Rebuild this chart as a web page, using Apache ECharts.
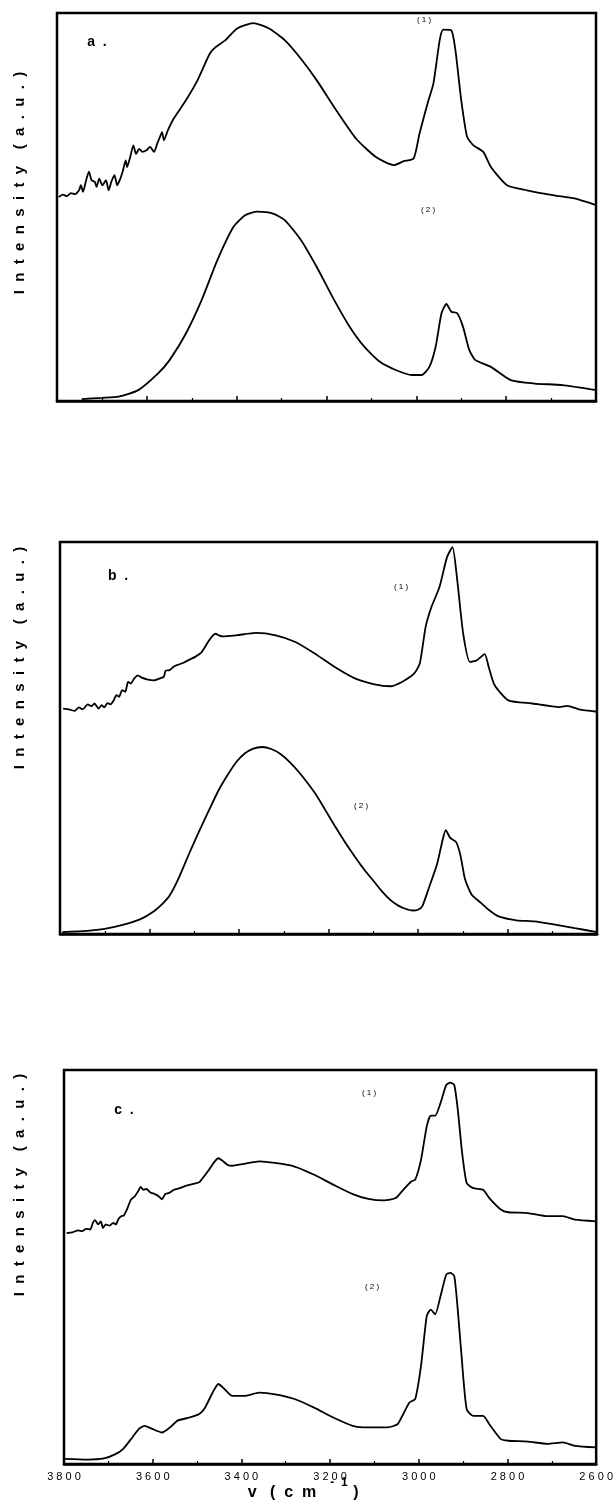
<!DOCTYPE html>
<html>
<head>
<meta charset="utf-8">
<script src="https://cdn.jsdelivr.net/npm/echarts@6.0.0/dist/echarts.min.js"></script>
<style>
  html, body { margin: 0; padding: 0; background: #fff; }
  #chart { width: 616px; height: 1503px; }
</style>
</head>
<body>
<div id="chart"></div>
<script>
// wavenumber (cm-1) / intensity (a.u., 0-100 of panel height)
var xTicks = [3800, 3600, 3400, 3200, 3000, 2800, 2600];

var curveA1 = [
  [3796,52.6],[3787,53.2],[3778,52.8],[3769,53.6],[3760,53.3],[3751,54.3],[3747,55.6],[3742,53.9],
  [3736,56.5],[3729,59.1],[3723,56.9],[3716,56.5],[3712,55.2],[3706,57.3],[3699,55.6],[3691,56.9],
  [3685,54.3],[3679,56.5],[3672,58.2],[3666,55.6],[3659,57.3],[3653,59.5],[3647,62],[3644,60.3],
  [3637,62.9],[3630,65.9],[3624,63.7],[3617,65],[3610,64.2],[3601,64.6],[3593,65.5],[3584,64.2],
  [3577,66.3],[3571,68],[3566,69.3],[3562,67.2],[3553,69.8],[3540,72.8],[3513,77.5],[3487,82.7],
  [3460,89.5],[3447,91.2],[3425,93],[3399,96],[3363,97.4],[3328,96],[3293,93],[3257,88.2],
  [3222,82.7],[3178,74.9],[3134,67.6],[3090,62.9],[3050,60.8],[3028,61.8],[3006,62.5],[2993,68.9],
  [2975,76.7],[2962,81.8],[2948,93],[2940,95.7],[2922,95.5],[2913,90.4],[2900,77.5],[2887,68.1],
  [2873,65.9],[2851,64.2],[2834,60.3],[2798,55.6],[2754,54.3],[2693,53],[2648,52.2],[2600,50.5]
];
var curveA2 = [
  [3745,0.5],[3700,0.8],[3663,1.1],[3619,2.8],[3575,7.1],[3549,10.6],[3513,17.4],[3478,26],
  [3443,36.3],[3407,44.9],[3381,47.9],[3354,48.8],[3319,48.3],[3293,46.6],[3257,41.5],[3222,34.6],
  [3187,26.9],[3151,19.6],[3116,14],[3081,10.1],[3046,8],[3010,6.7],[2988,6.7],[2971,8.8],
  [2957,14],[2944,22.6],[2933,25],[2922,23],[2909,22.6],[2896,19.1],[2882,13.1],[2869,10.6],
  [2834,8.8],[2790,5.4],[2737,4.5],[2675,4.1],[2600,2.8]
];
var curveB1 = [
  [3793,57.5],[3780,57.3],[3767,56.9],[3758,57.8],[3749,57.3],[3738,58.6],[3730,58.1],[3723,58.8],
  [3714,57.5],[3707,58.4],[3701,57.8],[3694,58.9],[3687,58.6],[3680,59.6],[3674,60.9],[3668,60.5],
  [3661,62.2],[3654,61.8],[3648,64.3],[3642,63.9],[3634,65.2],[3626,66],[3617,65.4],[3604,64.9],
  [3590,64.7],[3577,65.2],[3568,65.6],[3564,67.2],[3555,67.3],[3546,68.2],[3538,68.6],[3524,69.2],
  [3511,70],[3498,70.7],[3485,71.7],[3476,73.2],[3467,74.9],[3458,76.2],[3452,76.6],[3445,76.2],
  [3436,75.9],[3406,76.2],[3362,76.8],[3318,76.2],[3274,74.5],[3230,71.5],[3186,68.1],[3141,65.2],
  [3097,63.7],[3062,63.2],[3036,64.3],[3009,66.4],[2996,69],[2983,78.3],[2970,83.4],[2952,88.5],
  [2935,96.2],[2923,98.7],[2913,91],[2899,76.6],[2884,69.4],[2869,69.8],[2851,71.4],[2842,68.1],
  [2829,63.5],[2798,59.6],[2745,58.8],[2684,57.9],[2666,58.2],[2640,57.3],[2600,56.7]
];
var curveB2 = [
  [3795,0.5],[3740,0.8],[3700,1.3],[3660,2.3],[3620,3.8],[3590,5.8],[3570,7.8],[3555,9.8],
  [3535,14.2],[3511,20.6],[3490,26],[3467,31.6],[3445,36.8],[3423,41],[3405,44],[3388,46],
  [3368,47.3],[3348,47.7],[3328,47.2],[3308,46],[3286,43.8],[3264,41],[3230,35.9],[3208,31.8],
  [3185,27.4],[3163,23.4],[3141,19.7],[3120,16.4],[3097,13.2],[3080,10.8],[3062,8.7],[3045,7.3],
  [3030,6.5],[3012,6],[3000,6.2],[2990,7.2],[2975,12],[2957,18],[2945,24],[2938,26.5],
  [2928,24.5],[2915,23.5],[2905,20],[2895,14],[2880,10],[2860,8],[2840,6],[2820,4.5],
  [2780,3.5],[2740,3.2],[2700,2.5],[2650,1.5],[2600,0.5]
];
var curveC1 = [
  [3794,58.6],[3781,58.8],[3768,59.3],[3759,59.1],[3750,59.7],[3741,59.5],[3735,61.2],[3730,61.9],
  [3723,60.8],[3717,61.6],[3712,59.9],[3706,60.8],[3697,60.5],[3689,61.2],[3683,60.8],[3677,62.2],
  [3671,62.9],[3665,63.1],[3658,64.6],[3649,67.1],[3640,68],[3633,69.2],[3627,70.3],[3621,69.6],
  [3614,69.8],[3605,68.9],[3595,68.5],[3586,67.9],[3579,67.2],[3572,68.5],[3563,68.8],[3552,69.6],
  [3539,70],[3526,70.6],[3509,71.1],[3495,71.5],[3487,72.6],[3473,74.7],[3460,76.8],[3452,77.6],
  [3443,77],[3431,75.9],[3421,75.7],[3394,76.2],[3359,76.8],[3324,76.4],[3280,75.5],[3236,73.4],
  [3193,70.9],[3149,68.5],[3114,67.3],[3078,66.9],[3052,67.5],[3035,69.6],[3017,71.7],[3008,72.2],
  [2995,77.2],[2982,85.7],[2973,88.4],[2963,88.4],[2951,91.6],[2938,96.2],[2929,96.8],[2920,96.2],
  [2912,89.9],[2903,79.7],[2892,71.3],[2877,70],[2855,69.6],[2841,67.5],[2815,64.6],[2798,63.9],
  [2754,63.7],[2710,62.9],[2675,62.9],[2648,62],[2600,61.6]
];
var curveC2 = [
  [3800,1.3],[3746,1.1],[3710,1.4],[3684,2.5],[3667,3.8],[3649,6.3],[3631,8.9],[3618,9.7],
  [3601,8.9],[3579,8],[3561,9.3],[3544,11],[3517,11.8],[3495,12.7],[3482,14.3],[3465,18.1],
  [3452,20.3],[3438,19],[3421,17.3],[3394,17.3],[3359,18.1],[3324,17.7],[3280,16.5],[3236,14.3],
  [3193,11.8],[3149,9.7],[3114,9.3],[3070,9.3],[3048,10.1],[3035,12.7],[3021,15.6],[3008,16.5],
  [2995,24.9],[2982,37.6],[2973,39.2],[2963,38],[2951,42.6],[2938,48.1],[2929,48.5],[2920,47.7],
  [2912,39],[2903,26.6],[2892,13.9],[2877,12.2],[2855,12.2],[2841,10.1],[2815,6.3],[2798,5.9],
  [2754,5.7],[2710,5.1],[2675,5.5],[2648,4.6],[2600,4.2]
];

var panels = [
  {grid: {left: 57, right: 20, top: 13, height: 388}, curves: [curveA1, curveA2], labels: false},
  {grid: {left: 60, right: 19, top: 542, height: 392}, curves: [curveB1, curveB2], labels: false},
  {grid: {left: 64, right: 16, top: 1070, height: 394}, curves: [curveC1, curveC2], labels: true}
];

var chart = echarts.init(document.getElementById('chart'));

var grids = [], xAxes = [], yAxes = [], series = [];
panels.forEach(function (p, i) {
  grids.push(Object.assign({show: true, borderColor: '#000', borderWidth: 2.5, backgroundColor: '#fff'}, p.grid));
  xAxes.push({
    type: 'value', gridIndex: i, inverse: true,
    min: 2600, max: 3800, interval: 200,
    axisLine: {show: true, lineStyle: {color: '#000', width: 2.5}},
    axisTick: {show: true, inside: true, length: 5, lineStyle: {color: '#000', width: 1.5}},
    minorTick: {show: true, splitNumber: 2, length: 3, lineStyle: {color: '#000', width: 1.2}},
    splitLine: {show: false},
    axisLabel: {
      show: p.labels, color: '#000', fontSize: 11, margin: 7,
      fontFamily: 'Liberation Sans, Arial, sans-serif',
      formatter: function (v) { return xTicks.indexOf(v) >= 0 ? String(v).split('').join(' ') : ''; }
    }
  });
  yAxes.push({type: 'value', gridIndex: i, min: 0, max: 100, show: false});
  p.curves.forEach(function (c) {
    series.push({
      type: 'line', xAxisIndex: i, yAxisIndex: i, data: c,
      showSymbol: false, smooth: 0.2,
      lineStyle: {color: '#000', width: 1.8}
    });
  });
});

var font = 'Liberation Sans, Arial, sans-serif';
function txt(x, y, s, size, weight, rot) {
  return {
    type: 'text', x: x, y: y, rotation: rot || 0,
    style: {text: s, fill: '#000', fontSize: size, fontWeight: weight || 'normal',
            fontFamily: font, align: 'center', verticalAlign: 'middle'}
  };
}
var yLabel = 'I  n  t  e  n  s  i  t  y    (  a  .  u  .  )';

chart.setOption({
  animation: false,
  grid: grids, xAxis: xAxes, yAxis: yAxes, series: series,
  graphic: [
    txt(20, 183, yLabel, 15, 'bold', Math.PI / 2),
    txt(20, 658, yLabel, 15, 'bold', Math.PI / 2),
    txt(20, 1185, yLabel, 15, 'bold', Math.PI / 2),
    txt(97, 42, 'a  .', 14, 'bold'),
    txt(118, 576, 'b  .', 14, 'bold'),
    txt(124, 1110, 'c  .', 14, 'bold'),
    txt(424, 20, '( 1 )', 8),
    txt(428, 210, '( 2 )', 8),
    txt(401, 587, '( 1 )', 8),
    txt(361, 806, '( 2 )', 8),
    txt(369, 1093, '( 1 )', 8),
    txt(372, 1287, '( 2 )', 8),
    txt(282, 1493, 'v   (  c  m', 16, 'bold'),
    txt(339, 1483, '-  1', 12, 'bold'),
    txt(356, 1493, ')', 16, 'bold')
  ]
});
</script>
</body>
</html>
